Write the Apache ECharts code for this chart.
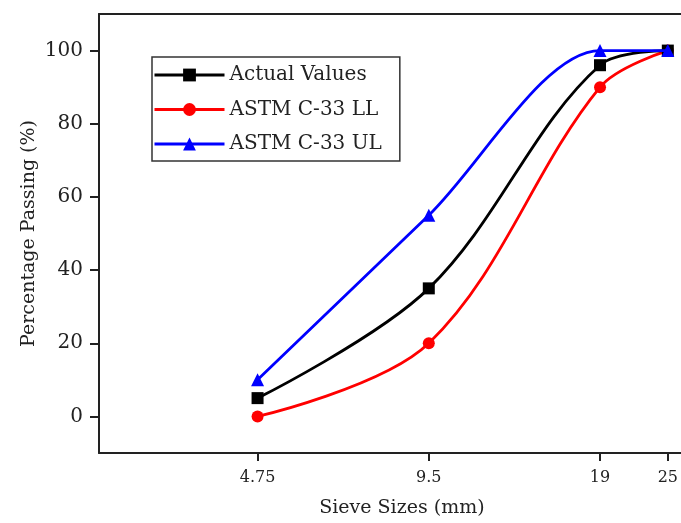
<!DOCTYPE html>
<html><head><meta charset="utf-8">
<script src="https://cdn.jsdelivr.net/npm/echarts@6/dist/echarts.min.js"></script>
<style>html,body{margin:0;padding:0;background:#fff}#c{width:681px;height:523px}</style>
</head><body><div id="c"></div>
<script>
const sieveSizes = [4.75, 9.5, 19, 25];
const actualValues = [5, 35, 96, 100];
const astmLL = [0, 20, 90, 100];
const astmUL = [10, 55, 100, 100];
const xTickLabels = [4.75, 9.5, 19, 25];
const yTickLabels = [0, 20, 40, 60, 80, 100];

const font = 'DejaVu Serif';
const txt = '#222';
function pairs(ys){ return sieveSizes.map((x,i)=>[x, ys[i]]); }

const chart = echarts.init(document.getElementById('c'), null, {renderer:'canvas'});
chart.setOption({
  animation:false,
  backgroundColor:'#fff',
  grid:{left:99, top:14, right:0, bottom:68, containLabel:false},
  xAxis:[{
    type:'log', min:2.5, max:26.35,
    name:'Sieve Sizes (mm)', nameLocation:'middle', nameGap:46,
    nameTextStyle:{fontFamily:font, fontSize:19, color:txt, padding:[0,0,0,24]},
    axisLine:{show:true, onZero:false, lineStyle:{color:txt, width:2}},
    axisTick:{show:true, inside:false, length:8, lineStyle:{color:txt, width:2}, customValues:xTickLabels},
    axisLabel:{fontFamily:font, fontSize:16, color:txt, margin:17, customValues:xTickLabels,
      formatter:(v)=>{ for(const t of xTickLabels){ if(Math.abs(t-v)<1e-3) return String(t);} return String(+(+v).toFixed(2)); }},
    splitLine:{show:false}, minorTick:{show:false}
  },{
    type:'log', min:2.5, max:26.35, position:'top',
    axisLine:{show:true, onZero:false, lineStyle:{color:txt, width:2}},
    axisTick:{show:false}, axisLabel:{show:false}, splitLine:{show:false}
  }],
  yAxis:{
    type:'value', min:-10, max:110,
    name:'Percentage Passing (%)', nameLocation:'middle', nameGap:60, nameRotate:90,
    nameMoveOverlap:false,
    nameTextStyle:{fontFamily:font, fontSize:19, color:txt},
    axisLine:{show:true, onZero:false, lineStyle:{color:txt, width:2}},
    axisTick:{show:true, inside:false, length:9, lineStyle:{color:txt, width:2}, customValues:yTickLabels},
    axisLabel:{fontFamily:font, fontSize:20, color:txt, margin:16, customValues:yTickLabels},
    splitLine:{show:false}
  },
  legend:{
    orient:'vertical', left:152, top:57,
    padding:[7,18,6,1], itemGap:12.5, itemWidth:70, itemHeight:16,
    borderColor:'#333', borderWidth:1.5, borderRadius:0,
    lineStyle:{width:3},
    textStyle:{fontFamily:font, fontSize:20, color:txt, lineHeight:22},
    data:['Actual Values','ASTM C-33 LL','ASTM C-33 UL']
  },
  series:[
    {name:'Actual Values', type:'line', smooth:0.35, data:pairs(actualValues),
     symbol:'rect', symbolSize:12, lineStyle:{color:'#000', width:2.8}, itemStyle:{color:'#000'}, z:3},
    {name:'ASTM C-33 LL', type:'line', smooth:0.35, data:pairs(astmLL),
     symbol:'circle', symbolSize:12, lineStyle:{color:'#ff0000', width:2.8}, itemStyle:{color:'#ff0000'}, z:2},
    {name:'ASTM C-33 UL', type:'line', smooth:0.3, data:pairs(astmUL),
     symbol:'triangle', symbolSize:13, lineStyle:{color:'#0000ff', width:2.8}, itemStyle:{color:'#0000ff'}, z:4}
  ]
});
</script></body></html>
